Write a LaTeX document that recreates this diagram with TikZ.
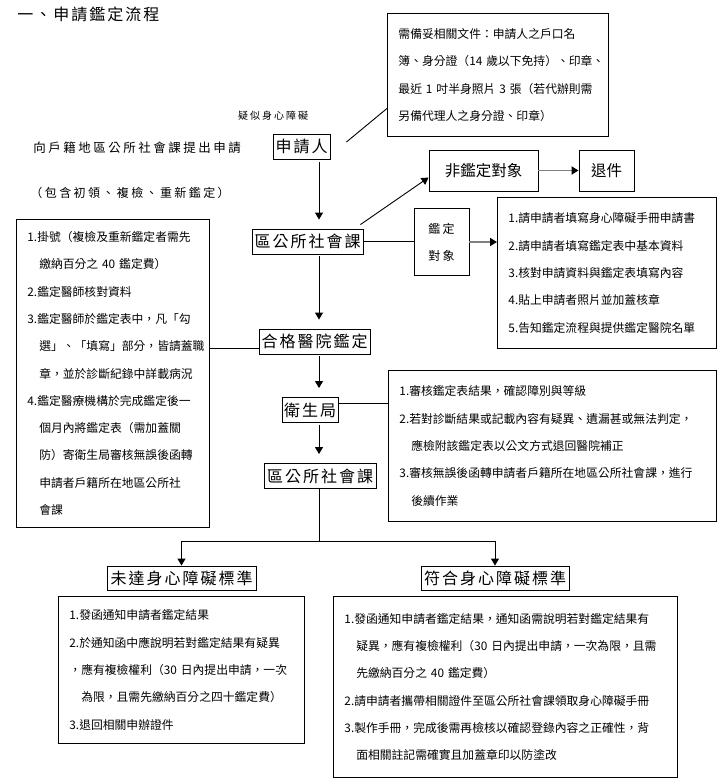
\documentclass[tikz,border=0pt]{standalone}
\usepackage{fontspec}
\setmainfont{Noto Sans CJK TC}
\newfontfamily\trackedfont[LetterSpace=12.5]{Noto Sans CJK TC}
\newfontfamily\widefont[LetterSpace=20]{Noto Sans CJK TC}
\usetikzlibrary{arrows.meta}

\begin{document}
\begin{tikzpicture}[
  x=1pt, y=-1pt,
  line width=0.9pt,
  >={Triangle[length=7pt,width=8pt]},
  arrow/.style={->, shorten >=9pt, shorten <=2pt},
  grayarrow/.style={draw=black!50, line width=1.8pt,
    -{Triangle[length=7pt,width=8pt,color=black]}},
  freetext/.style={inner sep=0pt},
  stage/.style={draw, font=\trackedfont\fontsize{16}{18}\selectfont,
    inner sep=0pt, minimum height=25pt},
  choice/.style={draw, font=\fontsize{15.5}{18}\selectfont,
    inner sep=0pt, minimum height=41pt},
  notebox/.style={draw, anchor=north west, align=left, inner xsep=11pt,
    inner ysep=0pt, font=\fontsize{11.8}{27.3}\selectfont}
]
  \useasboundingbox (0,0) rectangle (728,779);

  \node[freetext, anchor=west, font=\trackedfont\fontsize{16}{18}\selectfont]
    (title) at (17,14) {一、申請鑑定流程};
  \node[freetext, font=\widefont\fontsize{10}{12}\selectfont]
    (suspect) at (273,116) {疑似身心障礙};
  \node[freetext, anchor=west, font=\widefont\fontsize{12.5}{14}\selectfont]
    (apply) at (33,148) {向戶籍地區公所社會課提出申請};
  \node[freetext, anchor=west, font=\widefont\fontsize{12}{14}\selectfont]
    (kinds) at (30,193) {（包含初領、複檢、重新鑑定）};

  \coordinate (col) at (319,0);
  \coordinate (split) at (319,541);

  \node[stage, minimum width=57pt] (applicant) at (301.5,147) {申請人};
  \node[stage, minimum width=111pt] (office) at (307.5,241.5) {區公所社會課};
  \node[stage, minimum width=111pt] (hospital) at (314.5,341.5) {合格醫院鑑定};
  \node[stage, minimum width=56pt] (health) at (310,410) {衛生局};
  \node[stage, minimum width=112pt] (office2) at (320,476) {區公所社會課};
  \node[stage, minimum width=149pt, minimum height=24pt] (notmet) at (181.5,578) {未達身心障礙標準};
  \node[stage, minimum width=148pt, minimum height=24pt] (met) at (495,578) {符合身心障礙標準};

  \node[choice, minimum width=109pt] (nontarget) at (483.5,170.5) {非鑑定對象};
  \node[choice, minimum width=55pt] (reject) at (606.5,170.5) {退件};
  \node[draw, minimum width=55pt, minimum height=67pt, inner sep=0pt, align=center,
    font=\widefont\fontsize{12}{27}\selectfont] (target) at (441.5,242) {鑑定\\對象};

  \node[notebox, text width=199pt, minimum height=123pt] (docs) at (387,13) {
    需備妥相關文件：申請人之戶口名\\
    簿、身分證（14~歲以下免持）、印章、\\
    最近~1~吋半身照片~3~張（若代辦則需\\
    另備代理人之身分證、印章）};

  \node[notebox, text width=197pt, minimum height=151pt] (tasks) at (497,197) {
    1.請申請者填寫身心障礙手冊申請書\\
    2.請申請者填寫鑑定表中基本資料\\
    3.核對申請資料與鑑定表填寫內容\\
    4.貼上申請者照片並加蓋核章\\
    5.告知鑑定流程與提供鑑定醫院名單};

  \node[notebox, text width=171pt, minimum height=308pt] (hosplist) at (16,219) {
    1.掛號（複檢及重新鑑定者需先\\
    \hspace*{1em}繳納百分之~40~鑑定費）\\
    2.鑑定醫師核對資料\\
    3.鑑定醫師於鑑定表中，凡「勾\\
    \hspace*{1em}選」、「填寫」部分，皆請蓋職\\
    \hspace*{1em}章，並於診斷紀錄中詳載病況\\
    4.鑑定醫療機構於完成鑑定後一\\
    \hspace*{1em}個月內將鑑定表（需加蓋關\\
    \hspace*{1em}防）寄衛生局審核無誤後函轉\\
    \hspace*{1em}申請者戶籍所在地區公所社\\
    \hspace*{1em}會課};

  \node[notebox, text width=306pt, minimum height=151pt] (review) at (388,370) {
    1.審核鑑定表結果，確認障別與等級\\
    2.若對診斷結果或記載內容有疑異、遺漏甚或無法判定，\\
    \hspace*{1em}應檢附該鑑定表以公文方式退回醫院補正\\
    3.審核無誤後函轉申請者戶籍所在地區公所社會課，進行\\
    \hspace*{1em}後續作業};

  \node[notebox, text width=224pt, minimum height=147pt] (notmetlist) at (58,596) {
    1.發函通知申請者鑑定結果\\
    2.於通知函中應說明若對鑑定結果有疑異\\
    ，應有複檢權利（30~日內提出申請，一次\\
    \hspace*{1em}為限，且需先繳納百分之四十鑑定費）\\
    3.退回相關申辦證件};

  \node[notebox, text width=322pt, minimum height=181pt] (metlist) at (333,596) {
    1.發函通知申請者鑑定結果，通知函需說明若對鑑定結果有\\
    \hspace*{1em}疑異，應有複檢權利（30~日內提出申請，一次為限，且需\\
    \hspace*{1em}先繳納百分之~40~鑑定費）\\
    2.請申請者攜帶相關證件至區公所社會課領取身心障礙手冊\\
    3.製作手冊，完成後需再檢核以確認登錄內容之正確性，背\\
    \hspace*{1em}面相關註記需確實且加蓋章印以防塗改};

  \draw[arrow] (applicant.south -| col) -- (office.north -| col);
  \draw[arrow] (office.south -| col) -- (hospital.north -| col);
  \draw[arrow] (hospital.south -| col) -- (health.north -| col);
  \draw[arrow] (health.south -| col) -- (office2.north -| col);
  \draw (office2.south -| col) -- (split);
  \draw[->] (split) -| (notmet.north);
  \draw[->] (split) -| (met.north);

  \draw ([xshift=16pt,yshift=5pt]applicant.east) -- ([yshift=-33.5pt]docs.west);
  \draw[->] ([xshift=-3pt,yshift=4pt]office.north east) -- ([yshift=-7pt]nontarget.west);
  \draw[grayarrow] (nontarget.east) -- (reject.west);
  \draw (office.east) -- (office.east -| target.west);
  \draw[grayarrow] (target.east) -- (target.east -| tasks.west);
  \draw ([yshift=-6.5pt]hospital.west) -- ([yshift=-6.5pt]hospital.west -| hosplist.east);
  \draw ([yshift=7pt]health.east) -- ([yshift=7pt]health.east -| review.west);
\end{tikzpicture}
\end{document}
